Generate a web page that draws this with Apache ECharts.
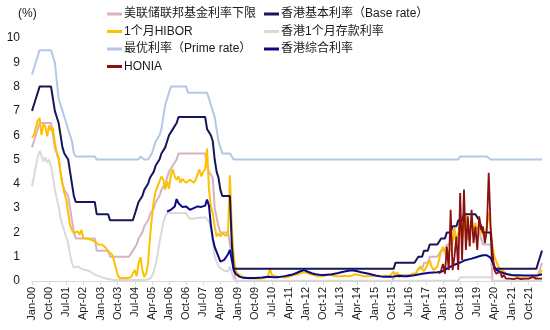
<!DOCTYPE html>
<html><head><meta charset="utf-8">
<script src="https://cdn.jsdelivr.net/npm/echarts@6/dist/echarts.min.js"></script>
<style>html,body{margin:0;padding:0;background:#fff}#c{width:550px;height:330px}</style>
</head><body><div id="c"></div>
<script>
// Monthly, Jan-2000 .. May-2022
const MONTHS = ['Jan','Feb','Mar','Apr','May','Jun','Jul','Aug','Sep','Oct','Nov','Dec'];
const FIRST_YEAR = 2000, N_POINTS = 269;
const categories = [];
for (let k = 0; k < N_POINTS; k++) {
  const y = FIRST_YEAR + Math.floor(k / 12);
  categories.push(MONTHS[k % 12] + '-' + String(y % 100).padStart(2, '0'));
}
const yTicks = [0,1,2,3,4,5,6,7,8,9,10];

const fedLower = [
 5.5,5.75,6,6,6.5,6.5,6.5,6.5,6.5,6.5,6.5,6.5,
 5.5,5.5,5,4.5,4,3.75,3.75,3.5,3,2.5,2,1.75,
 1.75,1.75,1.75,1.75,1.75,1.75,1.75,1.75,1.75,1.75,1.25,1.25,
 1.25,1.25,1.25,1.25,1.25,1,1,1,1,1,1,1,
 1,1,1,1,1,1.25,1.25,1.5,1.75,1.75,2,2.25,
 2.25,2.5,2.75,2.75,3,3.25,3.25,3.5,3.75,3.75,4,4.25,
 4.5,4.5,4.75,4.75,5,5.25,5.25,5.25,5.25,5.25,5.25,5.25,
 5.25,5.25,5.25,5.25,5.25,5.25,5.25,5.25,4.75,4.5,4.5,4.25,
 3,3,2.25,2,2,2,2,2,2,1,1,0,
 0,0,0,0,0,0,0,0,0,0,0,0,
 0,0,0,0,0,0,0,0,0,0,0,0,
 0,0,0,0,0,0,0,0,0,0,0,0,
 0,0,0,0,0,0,0,0,0,0,0,0,
 0,0,0,0,0,0,0,0,0,0,0,0,
 0,0,0,0,0,0,0,0,0,0,0,0,
 0,0,0,0,0,0,0,0,0,0,0,0.25,
 0.25,0.25,0.25,0.25,0.25,0.25,0.25,0.25,0.25,0.25,0.25,0.5,
 0.5,0.5,0.75,0.75,0.75,1,1,1,1,1,1,1.25,
 1.25,1.25,1.5,1.5,1.5,1.75,1.75,1.75,2,2,2,2.25,
 2.25,2.25,2.25,2.25,2.25,2.25,2.25,2,1.75,1.5,1.5,1.5,
 1.5,1.5,0,0,0,0,0,0,0,0,0,0,
 0,0,0,0,0,0,0,0,0,0,0,0,
 0,0,0.25,0.25,0.75
];

const baseRate = [
 7,7.25,7.5,7.5,8,8,8,8,8,8,8,8,
 7,7,6.5,6,5.5,5.25,5.25,5,4.5,4,3.5,3.25,
 3.25,3.25,3.25,3.25,3.25,3.25,3.25,3.25,3.25,3.25,2.75,2.75,
 2.75,2.75,2.75,2.75,2.75,2.5,2.5,2.5,2.5,2.5,2.5,2.5,
 2.5,2.5,2.5,2.5,2.5,2.5,2.75,3,3.25,3.25,3.5,3.75,
 3.75,4,4.25,4.25,4.5,4.75,4.75,5,5.25,5.25,5.5,5.75,
 6,6,6.25,6.25,6.5,6.75,6.75,6.75,6.75,6.75,6.75,6.75,
 6.75,6.75,6.75,6.75,6.75,6.75,6.75,6.75,6.25,6.25,6,5.75,
 5,4.5,4.25,3.75,3.5,3.5,3.5,3.5,3.5,1.5,0.5,0.5,
 0.5,0.5,0.5,0.5,0.5,0.5,0.5,0.5,0.5,0.5,0.5,0.5,
 0.5,0.5,0.5,0.5,0.5,0.5,0.5,0.5,0.5,0.5,0.5,0.5,
 0.5,0.5,0.5,0.5,0.5,0.5,0.5,0.5,0.5,0.5,0.5,0.5,
 0.5,0.5,0.5,0.5,0.5,0.5,0.5,0.5,0.5,0.5,0.5,0.5,
 0.5,0.5,0.5,0.5,0.5,0.5,0.5,0.5,0.5,0.5,0.5,0.5,
 0.5,0.5,0.5,0.5,0.5,0.5,0.5,0.5,0.5,0.5,0.5,0.5,
 0.5,0.5,0.5,0.5,0.5,0.5,0.5,0.5,0.5,0.5,0.5,0.75,
 0.75,0.75,0.75,0.75,0.75,0.75,0.75,0.75,0.75,0.75,0.75,1,
 1,1,1.25,1.25,1.25,1.5,1.5,1.5,1.5,1.5,1.5,1.75,
 1.75,1.75,2,2,2,2.25,2.25,2.25,2.5,2.5,2.5,2.75,
 2.75,2.75,2.75,2.75,2.75,2.75,2.75,2.5,2.25,2,2,2,
 2,2,0.86,0.5,0.5,0.5,0.5,0.5,0.5,0.5,0.5,0.5,
 0.5,0.5,0.5,0.5,0.5,0.5,0.5,0.5,0.5,0.5,0.5,0.5,
 0.5,0.5,0.75,0.75,1.25
];

const hibor1m = [
 5.9,6.0,5.95,6.6,6.7,6.0,6.45,6.35,5.95,6.4,6.2,6.3,
 5.7,5.28,5.1,4.45,4.0,3.62,3.35,2.8,2.3,2.1,1.97,1.95,
 2.04,1.9,2.1,1.76,1.7,1.75,1.76,1.7,1.75,1.62,1.7,1.5,
 1.49,1.49,1.45,1.35,1.21,1.28,1.1,0.87,0.87,0.25,0.12,0.1,
 0.12,0.1,0.12,0.15,0.15,0.15,0.45,0.2,0.73,0.98,0.45,0.17,
 0.3,0.73,1.8,2.6,3.3,3.7,3.9,4.1,4.3,4.17,3.76,4.1,
 3.8,4.38,4.59,4.3,4.17,4.3,4.04,4.2,4.24,4.04,3.96,4.17,
 4.24,4.04,4.17,4.1,4.59,4.3,4.5,4.59,5.45,3.76,3.07,2.8,
 2.24,1.83,1.97,1.83,1.97,1.9,1.85,1.97,4.35,2.2,1.0,0.45,
 0.3,0.25,0.2,0.18,0.15,0.12,0.1,0.1,0.1,0.1,0.1,0.1,
 0.1,0.12,0.12,0.1,0.2,0.52,0.25,0.2,0.2,0.18,0.16,0.15,
 0.15,0.15,0.15,0.17,0.2,0.22,0.25,0.25,0.28,0.3,0.35,0.38,
 0.35,0.3,0.28,0.25,0.25,0.22,0.2,0.2,0.2,0.2,0.22,0.25,
 0.28,0.25,0.22,0.2,0.2,0.2,0.2,0.2,0.22,0.22,0.2,0.2,
 0.22,0.25,0.28,0.3,0.25,0.22,0.2,0.2,0.2,0.2,0.22,0.2,
 0.2,0.2,0.22,0.2,0.2,0.2,0.22,0.2,0.2,0.25,0.38,0.25,
 0.35,0.15,0.25,0.3,0.2,0.2,0.22,0.25,0.3,0.3,0.32,0.5,
 0.6,0.5,0.4,0.55,0.7,0.85,0.6,0.45,0.5,0.6,0.9,1.25,
 1.4,1.42,1.0,1.2,1.3,1.56,2.2,1.6,1.9,2.5,1.7,2.2,
 2.8,1.7,2.0,2.5,1.85,2.4,2.1,2.25,2.0,1.9,1.8,2.3,
 2.8,2.1,1.45,1.0,0.8,0.6,0.5,0.45,0.4,0.3,0.3,0.25,
 0.25,0.22,0.2,0.17,0.15,0.12,0.1,0.1,0.1,0.1,0.12,0.15,
 0.17,0.2,0.25,0.35,0.45
];

const deposit1m = [
 3.9,4.3,4.7,5.1,5.35,5.16,4.93,5.08,4.88,5.0,4.72,4.3,
 3.76,3.4,3.07,2.6,2.3,2.05,1.8,1.57,1.1,0.74,0.55,0.53,
 0.6,0.58,0.5,0.48,0.45,0.5,0.42,0.38,0.32,0.25,0.22,0.2,
 0.18,0.15,0.12,0.1,0.08,0.06,0.05,0.05,0.04,0.04,0.04,0.04,
 0.04,0.04,0.04,0.04,0.04,0.04,0.04,0.04,0.04,0.04,0.04,0.04,
 0.05,0.06,0.1,0.2,0.4,0.7,1.1,1.6,2.0,2.4,2.65,2.8,
 2.8,2.8,2.8,2.8,2.8,2.8,2.8,2.8,2.8,2.8,2.65,2.56,
 2.56,2.56,2.58,2.6,2.6,2.6,2.62,2.62,2.65,2.45,2.2,1.6,
 1.0,0.8,0.62,0.53,0.48,0.42,0.38,0.4,0.6,0.35,0.08,0.02,
 0.01,0.01,0.01,0.01,0.01,0.01,0.01,0.01,0.01,0.01,0.01,0.01,
 0.01,0.01,0.01,0.01,0.01,0.01,0.01,0.01,0.01,0.01,0.01,0.01,
 0.01,0.01,0.01,0.01,0.01,0.01,0.01,0.01,0.01,0.01,0.01,0.01,
 0.01,0.01,0.01,0.01,0.01,0.01,0.01,0.01,0.01,0.01,0.01,0.01,
 0.01,0.01,0.01,0.01,0.01,0.01,0.01,0.01,0.01,0.01,0.01,0.01,
 0.01,0.01,0.01,0.01,0.01,0.01,0.01,0.01,0.01,0.01,0.01,0.01,
 0.01,0.01,0.01,0.01,0.01,0.01,0.01,0.01,0.01,0.01,0.01,0.01,
 0.01,0.01,0.01,0.01,0.01,0.01,0.01,0.01,0.01,0.01,0.01,0.01,
 0.01,0.01,0.01,0.01,0.01,0.01,0.01,0.01,0.01,0.01,0.01,0.01,
 0.01,0.01,0.01,0.01,0.01,0.01,0.01,0.01,0.01,0.15,0.15,0.15,
 0.15,0.15,0.15,0.15,0.15,0.15,0.15,0.15,0.15,0.15,0.15,0.15,
 0.15,0.15,0.01,0.01,0.01,0.01,0.01,0.01,0.01,0.01,0.01,0.01,
 0.01,0.01,0.01,0.01,0.01,0.01,0.01,0.01,0.01,0.01,0.01,0.01,
 0.01,0.01,0.01,0.01,0.01
];

const primeRate = [
 8.5,8.75,9,9,9.5,9.5,9.5,9.5,9.5,9.5,9.5,9.5,
 9,8.25,7.5,7.25,7,6.75,6.5,6.25,6,5.75,5.25,5.125,
 5.125,5.125,5.125,5.125,5.125,5.125,5.125,5.125,5.125,5.125,5,5,
 5,5,5,5,5,5,5,5,5,5,5,5,
 5,5,5,5,5,5,5,5,5,5.125,5.125,5,
 5,5,5,5.25,5.5,5.75,5.75,6,6.25,6.75,7.25,7.5,
 7.75,8,8,8,8,8,8,8,8,8,7.75,7.75,
 7.75,7.75,7.75,7.75,7.75,7.75,7.75,7.75,7.75,7.5,7.25,7,
 6.75,6.25,5.75,5.5,5.25,5.25,5.25,5.25,5.25,5.25,5,5,
 5,5,5,5,5,5,5,5,5,5,5,5,
 5,5,5,5,5,5,5,5,5,5,5,5,
 5,5,5,5,5,5,5,5,5,5,5,5,
 5,5,5,5,5,5,5,5,5,5,5,5,
 5,5,5,5,5,5,5,5,5,5,5,5,
 5,5,5,5,5,5,5,5,5,5,5,5,
 5,5,5,5,5,5,5,5,5,5,5,5,
 5,5,5,5,5,5,5,5,5,5,5,5,
 5,5,5,5,5,5,5,5,5,5,5,5,
 5,5,5,5,5,5,5,5,5,5.125,5.125,5.125,
 5.125,5.125,5.125,5.125,5.125,5.125,5.125,5.125,5.125,5.125,5.125,5.125,
 5.125,5,5,5,5,5,5,5,5,5,5,5,
 5,5,5,5,5,5,5,5,5,5,5,5,
 5,5,5,5,5
];

const compositeRate = [
 null,null,null,null,null,null,null,null,null,null,null,null,
 null,null,null,null,null,null,null,null,null,null,null,null,
 null,null,null,null,null,null,null,null,null,null,null,null,
 null,null,null,null,null,null,null,null,null,null,null,null,
 null,null,null,null,null,null,null,null,null,null,null,null,
 null,null,null,null,null,null,null,null,null,null,null,2.86,
 2.9,2.93,3.0,3.07,3.37,3.2,3.14,3.05,3.0,3.07,3.0,2.93,
 2.95,3.0,3.05,3.07,3.0,3.05,3.07,3.1,3.35,3.1,2.3,1.75,
 1.4,1.2,1.0,0.8,0.82,0.87,0.95,1.1,1.28,0.87,0.45,0.3,
 0.22,0.18,0.15,0.13,0.12,0.12,0.12,0.12,0.12,0.12,0.12,0.13,
 0.13,0.14,0.15,0.16,0.17,0.17,0.16,0.15,0.15,0.15,0.16,0.18,
 0.2,0.2,0.22,0.24,0.25,0.27,0.3,0.33,0.36,0.4,0.43,0.45,
 0.42,0.38,0.35,0.32,0.3,0.28,0.27,0.26,0.25,0.25,0.25,0.26,
 0.26,0.27,0.28,0.3,0.31,0.33,0.35,0.37,0.39,0.4,0.42,0.43,
 0.44,0.43,0.42,0.4,0.38,0.36,0.35,0.33,0.31,0.3,0.28,0.26,
 0.24,0.22,0.2,0.19,0.18,0.17,0.17,0.17,0.17,0.17,0.18,0.2,
 0.22,0.22,0.21,0.2,0.2,0.2,0.21,0.22,0.23,0.24,0.25,0.27,
 0.3,0.3,0.31,0.32,0.33,0.34,0.35,0.35,0.36,0.36,0.37,0.38,
 0.42,0.46,0.5,0.55,0.6,0.63,0.66,0.7,0.73,0.76,0.8,0.84,
 0.87,0.88,0.9,0.92,0.95,0.97,1.0,1.02,1.04,1.06,1.07,1.06,
 1.0,0.95,0.79,0.6,0.45,0.4,0.38,0.35,0.32,0.3,0.28,0.26,
 0.25,0.25,0.24,0.24,0.24,0.23,0.23,0.23,0.23,0.23,0.23,0.23,
 0.23,0.23,0.24,0.25,0.28
];

const honia = [
 null,null,null,null,null,null,null,null,null,null,null,null,
 null,null,null,null,null,null,null,null,null,null,null,null,
 null,null,null,null,null,null,null,null,null,null,null,null,
 null,null,null,null,null,null,null,null,null,null,null,null,
 null,null,null,null,null,null,null,null,null,null,null,null,
 null,null,null,null,null,null,null,null,null,null,null,null,
 null,null,null,null,null,null,null,null,null,null,null,null,
 null,null,null,null,null,null,null,null,null,null,null,null,
 null,null,null,null,null,null,null,null,null,null,null,null,
 null,null,null,null,null,null,null,null,null,null,null,null,
 null,null,null,null,null,null,null,null,null,null,null,null,
 null,null,null,null,null,null,null,null,null,null,null,null,
 null,null,null,null,null,null,null,null,null,null,null,null,
 null,null,null,null,null,null,null,null,null,null,null,null,
 null,null,null,null,null,null,null,null,null,null,null,null,
 null,null,null,null,null,null,null,null,null,null,null,null,
 null,null,null,null,null,null,null,null,null,null,null,null,
 null,null,null,null,null,null,null,null,null,null,0.3,0.45,
 0.7,0.3,1.42,0.45,2.93,0.45,1.0,1.83,0.45,3.62,0.87,3.76,
 1.28,2.66,1.42,2.93,1.56,2.24,1.28,2.66,2.1,2.24,1.56,2.1,
 4.45,2.24,1.15,0.45,0.3,0.25,0.38,0.15,0.25,0.1,0.12,0.1,
 0.1,0.08,0.1,0.12,0.1,0.08,0.1,0.1,0.12,0.1,0.15,0.17,
 0.12,0.1,0.1,0.1,0.1
];

const seriesNames = ['美联储联邦基金利率下限','香港基本利率（Base rate）','1个月HIBOR','香港1个月存款利率','最优利率（Prime rate）','香港综合利率','HONIA'];

const FONT = '"Liberation Sans", Arial, "Noto Sans CJK SC", sans-serif';
const TXT = '#1a1a1a';

function line(name, data, color, width, z) {
  return { name, type: 'line', data, symbol: 'none', showSymbol: false, connectNulls: false,
    lineStyle: { color, width }, itemStyle: { color }, z, animation: false };
}

const legendSlots = [
  { name: seriesNames[0], left: 107, top: 7 },
  { name: seriesNames[2], left: 107, top: 24.5 },
  { name: seriesNames[4], left: 107, top: 42 },
  { name: seriesNames[6], left: 107, top: 59.5 },
  { name: seriesNames[1], left: 264, top: 7 },
  { name: seriesNames[3], left: 264, top: 24.5 },
  { name: seriesNames[5], left: 264, top: 42 }
];

const chart = echarts.init(document.getElementById('c'), null, { renderer: 'canvas' });
chart.setOption({
  animation: false,
  backgroundColor: '#fff',
  textStyle: { fontFamily: FONT },
  grid: { left: 32, right: 8, top: 38, bottom: 49, containLabel: false },
  legend: legendSlots.map(s => ({
    data: [s.name], left: s.left, top: s.top, padding: 0, icon: 'rect',
    itemWidth: 15, itemHeight: 3, itemGap: 0, selectedMode: false,
    textStyle: { fontFamily: FONT, fontSize: 12, color: TXT, padding: [0,0,0,-3], lineHeight: 14 }
  })),
  graphic: [{ type: 'text', left: 18, top: 8, style: { text: '(%)', font: '12px ' + FONT, fill: TXT } }],
  xAxis: {
    type: 'category', data: categories, boundaryGap: false,
    axisLine: { lineStyle: { color: '#d9d9d9', width: 1 } },
    axisTick: { show: true, interval: 8, length: 4, lineStyle: { color: '#d9d9d9' } },
    axisLabel: { interval: 8, rotate: 90, fontSize: 11, color: TXT, margin: 6, fontFamily: FONT },
    splitLine: { show: false }
  },
  yAxis: {
    type: 'value', min: yTicks[0], max: yTicks[yTicks.length - 1], interval: 1,
    axisLine: { show: false }, axisTick: { show: false }, splitLine: { show: false },
    axisLabel: { fontSize: 12, color: TXT, margin: 12, fontFamily: FONT }
  },
  series: [
    line(seriesNames[0], fedLower, '#D5B2C7', 2, 2),
    line(seriesNames[3], deposit1m, '#D9D9D9', 2, 3),
    line(seriesNames[4], primeRate, '#B4C7E7', 2, 2),
    line(seriesNames[2], hibor1m, '#FFC000', 2, 4),
    line(seriesNames[1], baseRate, '#16165C', 2, 5),
    line(seriesNames[5], compositeRate, '#0A0A86', 2, 6),
    line(seriesNames[6], honia, '#8B1010', 1.8, 7)
  ]
});
</script></body></html>
